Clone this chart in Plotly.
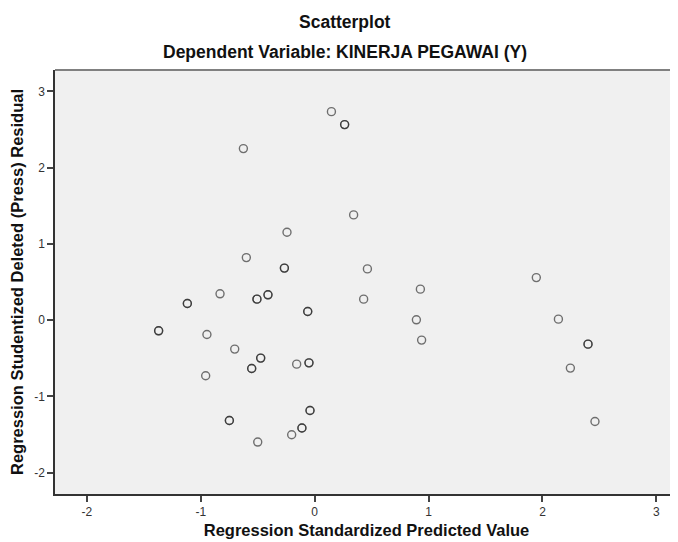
import plotly.graph_objects as go

# Regression Standardized Predicted Value
pred = [0.147, 0.263, 0.263, -0.626, 0.342, -0.243, -0.600, -0.266, -0.266, 0.463,
        0.928, -0.831, -1.118, -1.118, -0.507, -0.507, -0.410, -0.410, -0.061, -0.061,
        0.430, 0.893, 0.939, -1.370, -1.370, -0.946, -0.702, -0.474, -0.474, -0.553,
        -0.553, -0.158, -0.050, -0.050, -0.957, -0.041, -0.041, -0.749, -0.749, -0.112,
        -0.112, -0.202, -0.500, 1.946, 2.140, 2.400, 2.400, 2.245, 2.461]
# Regression Studentized Deleted (Press) Residual
resid = [2.734, 2.564, 2.564, 2.249, 1.380, 1.153, 0.820, 0.682, 0.682, 0.672,
         0.406, 0.345, 0.218, 0.218, 0.275, 0.275, 0.332, 0.332, 0.113, 0.113,
         0.275, 0.004, -0.262, -0.140, -0.140, -0.189, -0.380, -0.498, -0.498, -0.634,
         -0.634, -0.577, -0.560, -0.560, -0.730, -1.185, -1.185, -1.316, -1.316, -1.415,
         -1.415, -1.503, -1.599, 0.558, 0.013, -0.315, -0.315, -0.629, -1.329]

x_ticks = [-2, -1, 0, 1, 2, 3]
x_tick_labels = ["-2", "-1", "0", "1", "2", "3"]
y_ticks = [-2, -1, 0, 1, 2, 3]
y_tick_labels = ["-2", "-1", "0", "1", "2", "3"]

FONT = "Liberation Sans, Arial, sans-serif"

fig = go.Figure()
fig.add_trace(go.Scatter(
    x=pred, y=resid, mode="markers",
    marker=dict(symbol="circle-open", size=8, color="rgba(30,30,30,0.62)",
                line=dict(width=1.4)),
    hoverinfo="x+y", showlegend=False,
))

fig.update_layout(
    width=670, height=534,
    margin=dict(l=47, r=0, t=62, b=48),
    paper_bgcolor="white", plot_bgcolor="#f0f0f0",
    font=dict(family=FONT, color="#222"),
    xaxis=dict(range=[-2.28, 3.19], tickvals=x_ticks, ticktext=x_tick_labels,
               ticks="outside", ticklen=6,
               tickwidth=1.5, tickcolor="#444", showgrid=False, zeroline=False,
               showline=True, linecolor="#333", linewidth=1.5,
               tickfont=dict(size=12, color="#333"),
               title=dict(text="<b>Regression Standardized Predicted Value</b>",
                          font=dict(size=16.5, color="#111"), standoff=6)),
    yaxis=dict(range=[-2.28, 3.28], tickvals=y_ticks, ticktext=y_tick_labels,
               ticks="outside", ticklen=6,
               tickwidth=1.5, tickcolor="#444", showgrid=False, zeroline=False,
               showline=True, linecolor="#333", linewidth=1.5,
               tickfont=dict(size=12, color="#333"),
               title=dict(text="<b>Regression Studentized Deleted (Press) Residual</b>",
                          font=dict(size=16.5, color="#111"), standoff=8)),
    shapes=[dict(type="line", xref="paper", yref="paper", x0=0, x1=1, y0=1, y1=1,
                 line=dict(color="#808080", width=2))],
    annotations=[
        dict(text="<b>Scatterplot</b>", xref="paper", yref="paper", x=0.4655, y=1.113,
             xanchor="center", yanchor="middle", showarrow=False,
             font=dict(size=17.5, color="#111")),
        dict(text="<b>Dependent Variable: KINERJA PEGAWAI (Y)</b>", xref="paper",
             yref="paper", x=0.4655, y=1.042, xanchor="center", yanchor="middle",
             showarrow=False, font=dict(size=17.5, color="#111")),
    ],
)

fig.write_html("out.html")
